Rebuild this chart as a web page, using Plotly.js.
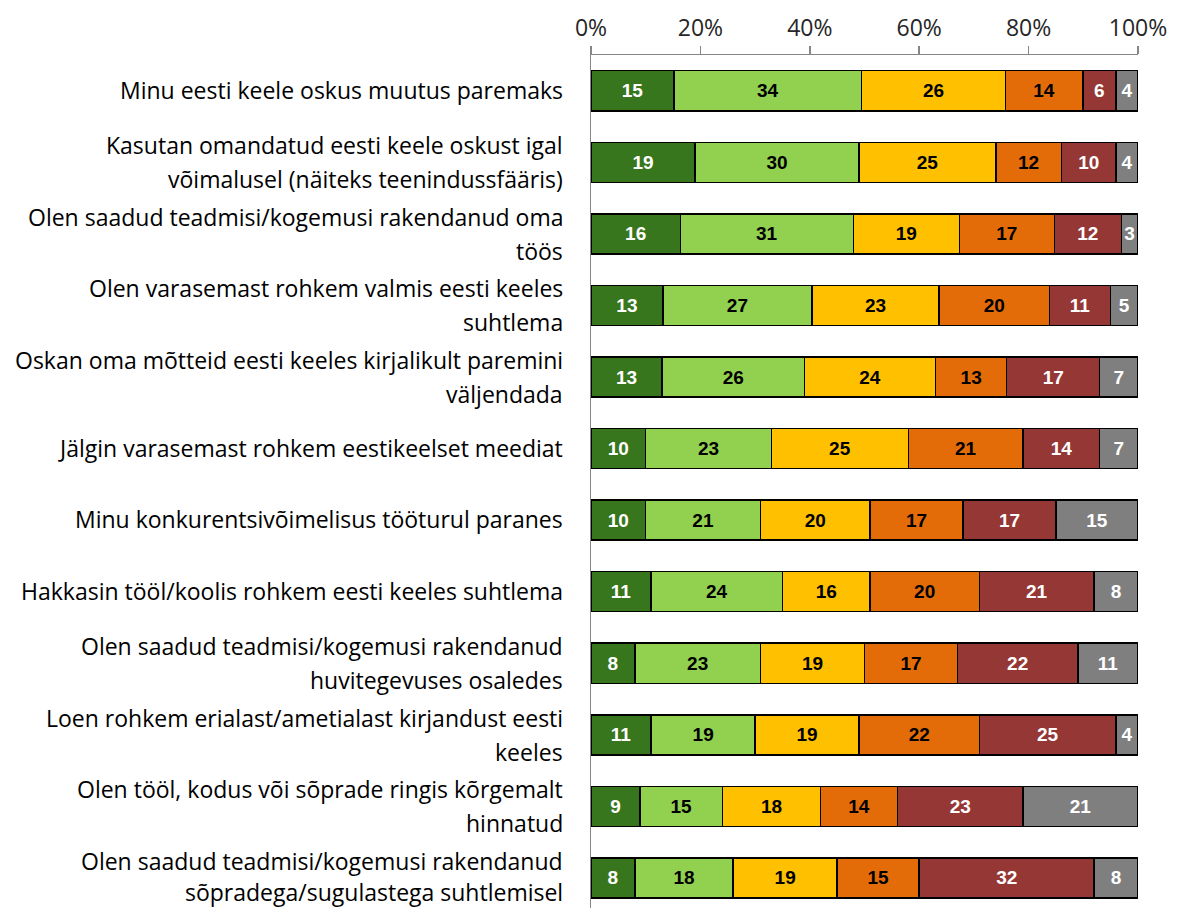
<!DOCTYPE html>
<html>
<head>
<meta charset="utf-8">
<script src="https://cdn.plot.ly/plotly-3.0.1.min.js"></script>
<style>html,body{margin:0;padding:0;background:#fff;}#chart{width:1177px;height:908px;}</style>
</head>
<body>
<div id="chart"></div>
<script>
const categories = [
  "Minu eesti keele oskus muutus paremaks",
  "Kasutan omandatud eesti keele oskust igal<br>võimalusel (näiteks teenindussfääris)",
  "Olen saadud teadmisi/kogemusi rakendanud oma<br>töös",
  "Olen varasemast rohkem valmis eesti keeles<br>suhtlema",
  "Oskan oma mõtteid eesti keeles kirjalikult paremini<br>väljendada",
  "Jälgin varasemast rohkem eestikeelset meediat",
  "Minu konkurentsivõimelisus tööturul paranes",
  "Hakkasin tööl/koolis rohkem eesti keeles suhtlema",
  "Olen saadud teadmisi/kogemusi rakendanud<br>huvitegevuses osaledes",
  "Loen rohkem erialast/ametialast kirjandust eesti<br>keeles",
  "Olen tööl, kodus või sõprade ringis kõrgemalt<br>hinnatud",
  "Olen saadud teadmisi/kogemusi rakendanud<br>sõpradega/sugulastega suhtlemisel"
];
const s1 = [15,19,16,13,13,10,10,11,8,11,9,8];
const s2 = [34,30,31,27,26,23,21,24,23,19,15,18];
const s3 = [26,25,19,23,24,25,20,16,19,19,18,19];
const s4 = [14,12,17,20,13,21,17,20,17,22,14,15];
const s5 = [6,10,12,11,17,14,17,21,22,25,23,32];
const s6 = [4,4,3,5,7,7,15,8,11,4,21,8];
const tickVals = [0,20,40,60,80,100];
const tickText = ["0%","20%","40%","60%","80%","100%"];

const series = [s1,s2,s3,s4,s5,s6];
const colors = ["#38761d","#92d050","#ffc000","#e36c09","#953735","#7f7f7f"];
const textColors = ["#ffffff","#000000","#000000","#000000","#ffffff","#ffffff"];
const yIdx = categories.map((c,i)=>i);

const traces = series.map((vals,k)=>({
  type:'bar', orientation:'h',
  x: vals, y: yIdx,
  text: vals.map(String),
  textposition:'inside', insidetextanchor:'middle', textangle:0,
  constraintext:'none',
  textfont:{family:'Liberation Sans, Arial, sans-serif', size:19, weight:'bold', color:textColors[k]},
  marker:{color:colors[k], line:{color:'#000000', width:1.5}},
  hoverinfo:'x', showlegend:false
}));

const annotations = [];
const last = categories.length - 1;
categories.forEach((c,i)=>{
  const lines = c.split('<br>');
  const n = lines.length;
  lines.forEach((ln,j)=>{
    let ys = 1;
    if (n > 1) ys = (j === 0) ? 17 : (i === last ? -14 : -17);
    annotations.push({
      xref:'paper', yref:'y', x:0, y:i, xanchor:'right', yanchor:'middle',
      xshift:-26, yshift: ys,
      text: ln, showarrow:false,
      font:{family:'Open Sans, sans-serif', size:23, color:'#000000'}
    });
  });
});

const layout = {
  width:1177, height:908,
  margin:{l:591, r:39, t:55, b:0},
  barmode:'stack', barnorm:'percent', bargap:0.44,
  paper_bgcolor:'#ffffff', plot_bgcolor:'#ffffff',
  xaxis:{
    side:'top', range:[0,100], tickvals:tickVals, ticktext:tickText,
    showgrid:false, zeroline:false, showline:true, linecolor:'#868686', linewidth:1.5,
    ticks:'outside', ticklen:8, tickcolor:'#868686', tickwidth:1.5,
    tickfont:{family:'Open Sans, sans-serif', size:23, color:'#262626'},
    fixedrange:true
  },
  yaxis:{
    type:'linear', range:[11.42,-0.5], showticklabels:false, ticks:'',
    showgrid:false, zeroline:false, showline:true, linecolor:'#868686', linewidth:1.5,
    fixedrange:true
  },
  annotations: annotations
};

Plotly.newPlot('chart', traces, layout, {displayModeBar:false, staticPlot:true});
</script>
</body>
</html>
